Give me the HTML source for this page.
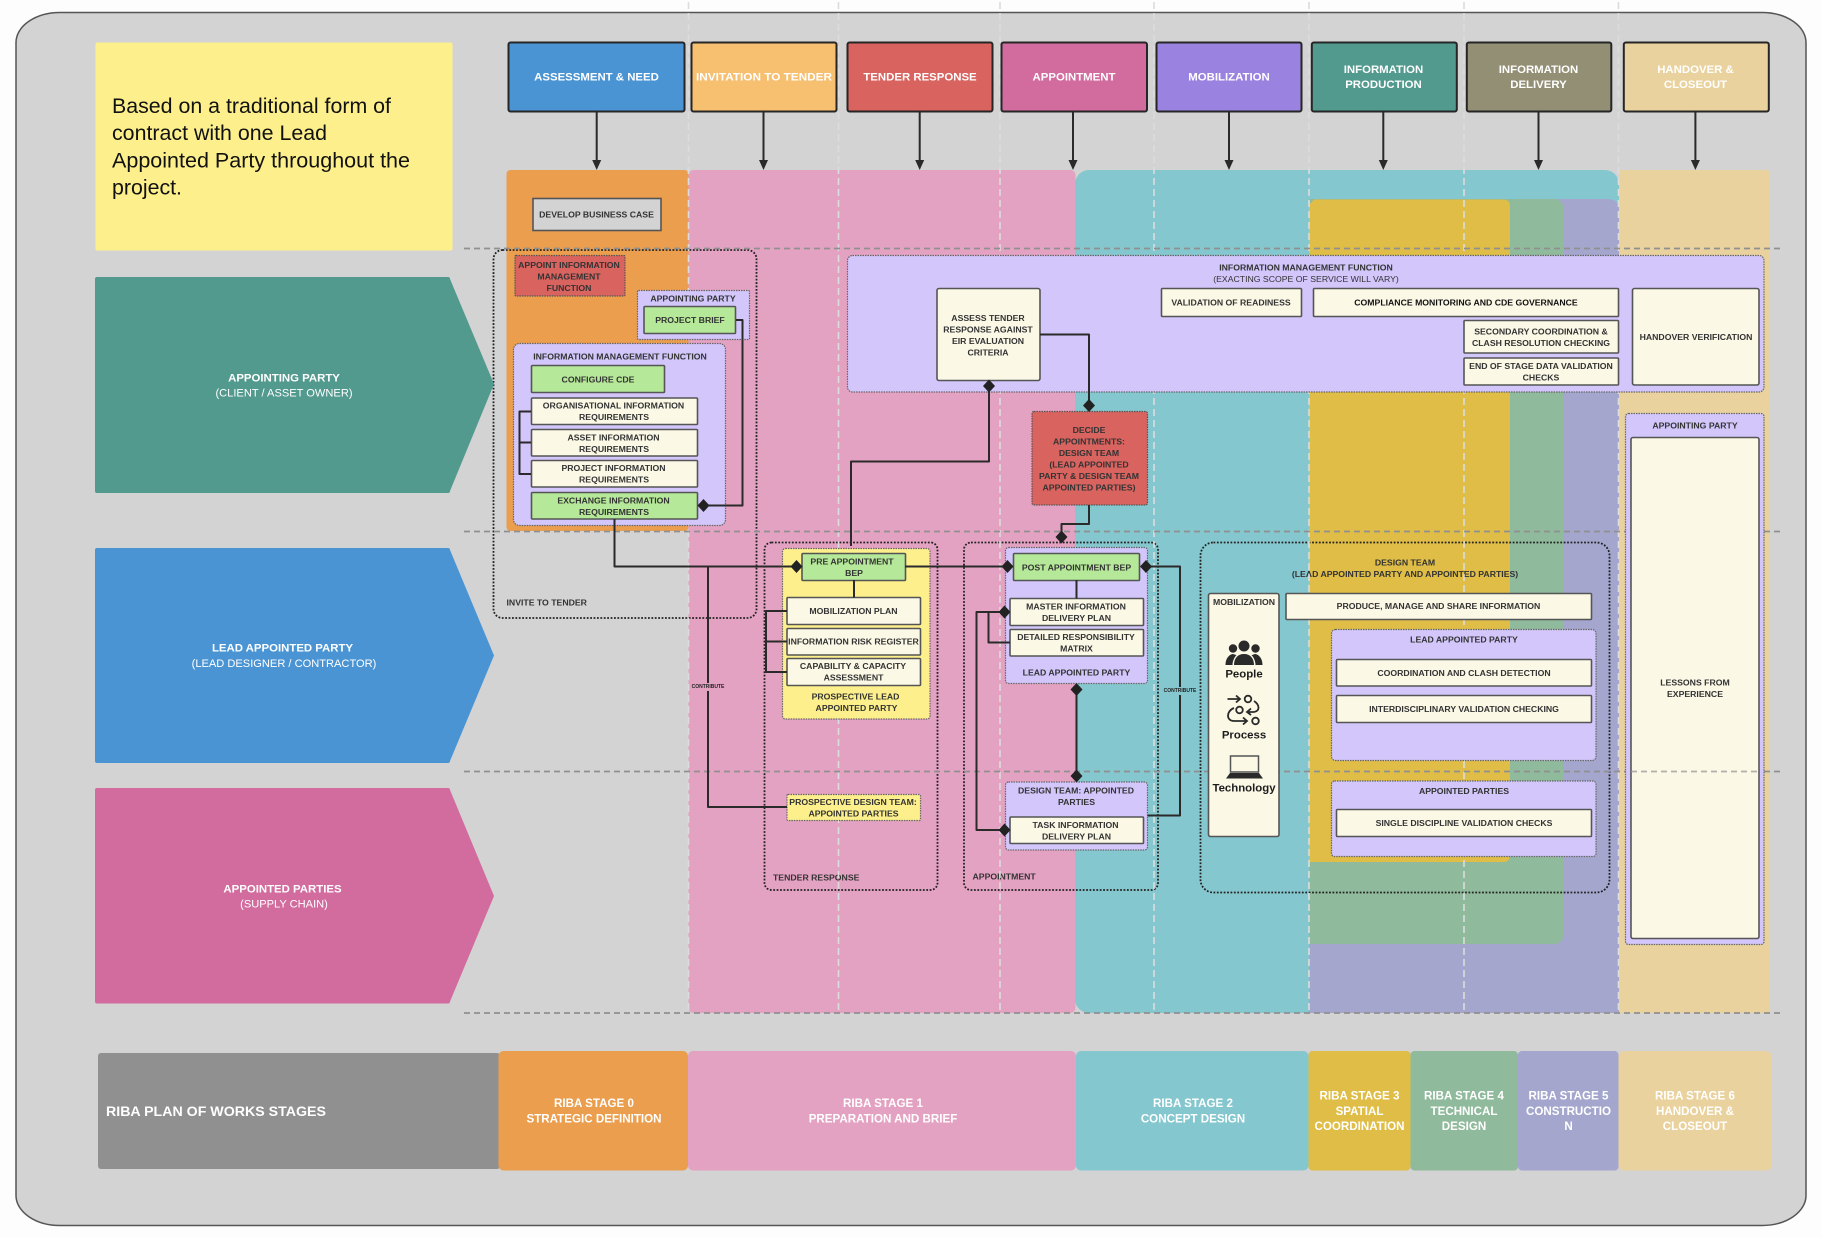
<!DOCTYPE html>
<html><head><meta charset="utf-8"><title>Information management process diagram</title>
<style>
html,body{margin:0;padding:0;background:#fdfdfd;width:1822px;height:1238px;overflow:hidden}
svg{display:block}
text{font-family:"Liberation Sans",sans-serif;dominant-baseline:central;text-anchor:middle;font-weight:700;font-size:8.7px;fill:#333}
.w{fill:#fff;font-size:11.4px;transform:translateY(.5px)}
.wr{fill:#fff;font-size:11.1px;font-weight:400;transform:translateY(.5px)}
.st{fill:#fff;font-size:11.6px;transform:translateY(.6px)}
.l{text-anchor:start}
.n{font-weight:400}
.b{stroke:#555;stroke-width:1.6}
.cream{fill:#fbf8e6}
.green{fill:#b5e898}
.pur{fill:#d2c6fb;stroke:#666;stroke-width:1.2;stroke-dasharray:1.5 1}
.dot{fill:none;stroke:#222;stroke-width:1.8;stroke-dasharray:1.8 1.6}
.hd{stroke:#262626;stroke-width:2}
.c{fill:none;stroke:#2a2a2a;stroke-width:2;stroke-linejoin:round}
.hl{stroke:#909090;stroke-width:1.7;stroke-dasharray:6 4;fill:none}
.vl{stroke:#dcdcdc;stroke-width:1.6;stroke-dasharray:7 4;fill:none}
</style></head><body>
<svg xmlns="http://www.w3.org/2000/svg" width="1822" height="1238" viewBox="0 0 1822 1238">
<defs><polygon id="d" points="0,-6.5 6,0 0,6.5 -6,0" fill="#222"/><polygon id="a" points="-4.5,-10 4.5,-10 0,0" fill="#2a2a2a"/></defs>
<rect width="1822" height="1238" fill="#fdfdfd"/>
<rect x="16" y="12.5" width="1790" height="1213" rx="44" ry="30" fill="#d3d3d3" stroke="#555" stroke-width="1.5"/>

<!-- stage columns -->
<rect x="506.5" y="170" width="182" height="361" rx="4" fill="#ea9e4e"/>
<rect x="688.5" y="170" width="387" height="843" rx="5" fill="#e4a2c2"/>
<path d="M1089 170H1605a14 14 0 0 1 14 14V1013H1089a14 14 0 0 1-14-14V184a14 14 0 0 1 14-14z" fill="#85c7cf"/>
<path d="M1309 199H1609a10 10 0 0 1 10 10V1013H1309z" fill="#a4a6ce"/>
<path d="M1309 199H1555a8 8 0 0 1 8 8V936a8 8 0 0 1-8 8H1309z" fill="#90ba9c"/>
<path d="M1314 199.500H1504a6 6 0 0 1 6 6V856a6 6 0 0 1-6 6H1309V205z" fill="#dfbd46"/>
<path d="M1619 170H1766a4 4 0 0 1 4 4V1013H1619z" fill="#e9d29e"/>

<!-- dotted containers -->
<rect x="493.500" y="250" width="263" height="368" rx="9" class="dot"/>
<rect x="764.500" y="542.500" width="173" height="347.500" rx="7" class="dot"/>
<rect x="964" y="542.500" width="194" height="347.500" rx="7" class="dot"/>
<rect x="1200.500" y="542.500" width="409" height="350" rx="13" class="dot"/>
<text class="l" x="506.500" y="602.500">INVITE TO TENDER</text>
<text class="l" x="773" y="877.500">TENDER RESPONSE</text>
<text class="l" x="972.500" y="876.500">APPOINTMENT</text>
<text x="1405" y="562.500">DESIGN TEAM</text>
<text x="1405" y="574">(LEAD APPOINTED PARTY AND APPOINTED PARTIES)</text>

<!-- grid lines -->
<g class="vl">
<path d="M688.500 2V1013M838.500 2V1013M1000 2V1013M1154 2V1013M1309 2V1013M1464 2V1013M1618.500 2V1013"/>
</g>
<g class="hl">
<path d="M464 248.500H1780M464 531.500H1780M464 771.500H1780M464 1013H1780"/>
</g>

<!-- note -->
<rect x="95.500" y="42.500" width="357" height="208" rx="2" fill="#fdf08c"/>
<text class="l n" style="font-size:21px;fill:#111" x="112" y="106.500" textLength="279" lengthAdjust="spacingAndGlyphs">Based on a traditional form of</text>
<text class="l n" style="font-size:21px;fill:#111" x="112" y="133.500" textLength="215" lengthAdjust="spacingAndGlyphs">contract with one Lead</text>
<text class="l n" style="font-size:21px;fill:#111" x="112" y="161" textLength="298" lengthAdjust="spacingAndGlyphs">Appointed Party throughout the</text>
<text class="l n" style="font-size:21px;fill:#111" x="112" y="188" textLength="70" lengthAdjust="spacingAndGlyphs">project.</text>

<!-- headers -->
<rect class="hd" x="508.500" y="42.500" width="176" height="69" rx="2" fill="#4a94d4"/>
<rect class="hd" x="691.500" y="42.500" width="145" height="69" rx="2" fill="#f7bf70"/>
<rect class="hd" x="847.500" y="42.500" width="145" height="69" rx="2" fill="#d8635f"/>
<rect class="hd" x="1001.500" y="42.500" width="145.500" height="69" rx="2" fill="#d26b9e"/>
<rect class="hd" x="1156.500" y="42.500" width="145" height="69" rx="2" fill="#9a82e0"/>
<rect class="hd" x="1311.800" y="42.500" width="145" height="69" rx="2" fill="#52998e"/>
<rect class="hd" x="1466.800" y="42.500" width="144.500" height="69" rx="2" fill="#928f74"/>
<rect class="hd" x="1623.800" y="42.500" width="145" height="69" rx="2" fill="#e9d29e"/>
<text class="w" x="596.500" y="77">ASSESSMENT &amp; NEED</text>
<text class="w" x="764" y="77" textLength="136" lengthAdjust="spacingAndGlyphs">INVITATION TO TENDER</text>
<text class="w" x="920" y="77">TENDER RESPONSE</text>
<text class="w" x="1074" y="77">APPOINTMENT</text>
<text class="w" x="1229" y="77">MOBILIZATION</text>
<text class="w" x="1383.500" y="69.500">INFORMATION</text><text class="w" x="1383.500" y="84.500">PRODUCTION</text>
<text class="w" x="1538.500" y="69.500">INFORMATION</text><text class="w" x="1538.500" y="84.500">DELIVERY</text>
<text class="w" x="1695.500" y="69.500">HANDOVER &amp;</text><text class="w" x="1695.500" y="84.500">CLOSEOUT</text>
<g class="c"><path d="M596.700 111V162M763.500 111V162M919.700 111V162M1073 111V162M1229 111V162M1383.300 111V162M1538.500 111V162M1695.400 111V162"/></g>
<use href="#a" x="596.700" y="170"/><use href="#a" x="763.500" y="170"/><use href="#a" x="919.700" y="170"/><use href="#a" x="1073" y="170"/><use href="#a" x="1229" y="170"/><use href="#a" x="1383.300" y="170"/><use href="#a" x="1538.500" y="170"/><use href="#a" x="1695.400" y="170"/>

<!-- chevrons -->
<path d="M97 277H448a2 2 0 0 1 2 2L494 384 450 491a2 2 0 0 1-2 2H97a2 2 0 0 1-2-2V279a2 2 0 0 1 2-2z" fill="#52998e"/>
<path d="M97 548H448a2 2 0 0 1 2 2L494 655.500 450 761a2 2 0 0 1-2 2H97a2 2 0 0 1-2-2V550a2 2 0 0 1 2-2z" fill="#4a94d4"/>
<path d="M97 788H448a2 2 0 0 1 2 2L494 896 450 1001.500a2 2 0 0 1-2 2H97a2 2 0 0 1-2-2V790a2 2 0 0 1 2-2z" fill="#d26b9e"/>
<text class="w" x="284" y="378">APPOINTING PARTY</text><text class="wr" x="284" y="393">(CLIENT / ASSET OWNER)</text>
<text class="w" x="282.500" y="648">LEAD APPOINTED PARTY</text><text class="wr" x="284" y="663.500">(LEAD DESIGNER / CONTRACTOR)</text>
<text class="w" x="282.500" y="889">APPOINTED PARTIES</text><text class="wr" x="284" y="904">(SUPPLY CHAIN)</text>

<!-- bottom band -->
<rect x="98" y="1053" width="402" height="116" rx="3" fill="#909090"/>
<text class="l" style="fill:#fff;font-size:14.2px" x="106" y="1112">RIBA PLAN OF WORKS STAGES</text>
<rect x="498.500" y="1051" width="189.500" height="119.500" rx="5" fill="#ea9e4e"/>
<rect x="688" y="1051" width="388" height="119.500" rx="5" fill="#e4a2c2"/>
<rect x="1076" y="1051" width="232.500" height="119.500" rx="5" fill="#85c7cf"/>
<rect x="1308.500" y="1051" width="102" height="119.500" rx="4" fill="#dfbd46"/>
<rect x="1410.500" y="1051" width="107.500" height="119.500" rx="4" fill="#90ba9c"/>
<rect x="1518" y="1051" width="100.500" height="119.500" rx="4" fill="#a4a6ce"/>
<rect x="1618.500" y="1051" width="153" height="119.500" rx="6" fill="#e9d29e"/>
<text class="st" x="594" y="1103">RIBA STAGE 0</text><text class="st" x="594" y="1118.500">STRATEGIC DEFINITION</text>
<text class="st" x="883" y="1103">RIBA STAGE 1</text><text class="st" x="883" y="1118.500">PREPARATION AND BRIEF</text>
<text class="st" x="1193" y="1103">RIBA STAGE 2</text><text class="st" x="1193" y="1118.500">CONCEPT DESIGN</text>
<text class="st" x="1359.500" y="1095.500">RIBA STAGE 3</text><text class="st" x="1359.500" y="1111">SPATIAL</text><text class="st" x="1359.500" y="1126">COORDINATION</text>
<text class="st" x="1464" y="1095.500">RIBA STAGE 4</text><text class="st" x="1464" y="1111">TECHNICAL</text><text class="st" x="1464" y="1126">DESIGN</text>
<text class="st" x="1568.500" y="1095.500">RIBA STAGE 5</text><text class="st" x="1568.500" y="1111">CONSTRUCTIO</text><text class="st" x="1568.500" y="1126">N</text>
<text class="st" x="1695" y="1095.500">RIBA STAGE 6</text><text class="st" x="1695" y="1111">HANDOVER &amp;</text><text class="st" x="1695" y="1126">CLOSEOUT</text>

<!-- stage 0 -->
<rect x="533" y="198.500" width="128" height="32" class="b" fill="#d3d3d3"/>
<text x="596.500" y="214.500">DEVELOP BUSINESS CASE</text>
<rect x="515" y="255.500" width="110" height="40.500" rx="1" fill="#d8635f" stroke="#555" stroke-width="1.2" stroke-dasharray="1.500 1"/>
<text x="569" y="265">APPOINT INFORMATION</text><text x="569" y="276.500">MANAGEMENT</text><text x="569" y="288">FUNCTION</text>
<rect x="637.500" y="290.500" width="112" height="49" rx="1" class="pur"/>
<text x="693" y="298.500">APPOINTING PARTY</text>
<rect x="644" y="306.500" width="91.500" height="27" rx="1" class="b green"/>
<text x="690" y="320">PROJECT BRIEF</text>
<rect x="513.500" y="343.500" width="212" height="182" rx="6" class="pur"/>
<text x="620" y="356.500">INFORMATION MANAGEMENT FUNCTION</text>
<rect x="531.500" y="365.500" width="133" height="27" rx="1" class="b green"/>
<text x="598" y="379.500">CONFIGURE CDE</text>
<rect x="531.500" y="398" width="166" height="26.500" rx="1" class="b cream"/>
<text x="613.500" y="405.500">ORGANISATIONAL INFORMATION</text><text x="614" y="417">REQUIREMENTS</text>
<rect x="531.500" y="429.500" width="166" height="26.500" rx="1" class="b cream"/>
<text x="613.500" y="437.500">ASSET INFORMATION</text><text x="614" y="449">REQUIREMENTS</text>
<rect x="531.500" y="460.500" width="166" height="26.500" rx="1" class="b cream"/>
<text x="613.500" y="468">PROJECT INFORMATION</text><text x="614" y="479.500">REQUIREMENTS</text>
<rect x="531.500" y="492.500" width="166" height="26.500" rx="1" class="b green"/>
<text x="613.500" y="500.500">EXCHANGE INFORMATION</text><text x="614" y="512">REQUIREMENTS</text>

<!-- top IM function -->
<rect x="847.500" y="255.500" width="916.500" height="136.500" rx="5" class="pur"/>
<text x="1306" y="267.500">INFORMATION MANAGEMENT FUNCTION</text>
<text class="n" x="1306" y="279">(EXACTING SCOPE OF SERVICE WILL VARY)</text>
<rect x="937" y="288.500" width="103" height="92" rx="2" class="b cream"/>
<text x="988" y="318">ASSESS TENDER</text><text x="988" y="329.500">RESPONSE AGAINST</text><text x="988" y="341">EIR EVALUATION</text><text x="988" y="352.500">CRITERIA</text>
<rect x="1161.500" y="288.500" width="140" height="28" rx="1" class="b cream"/>
<text x="1231" y="302.500">VALIDATION OF READINESS</text>
<rect x="1313.500" y="288.500" width="305" height="28" rx="1" class="b cream"/>
<text x="1466" y="302.500" style="fill:#111">COMPLIANCE MONITORING AND CDE GOVERNANCE</text>
<rect x="1464" y="320.500" width="154.500" height="32.500" rx="1" class="b cream"/>
<text x="1541" y="331.500">SECONDARY COORDINATION &amp;</text><text x="1541" y="343">CLASH RESOLUTION CHECKING</text>
<rect x="1464" y="358" width="154.500" height="27" rx="1" class="b cream"/>
<text x="1541" y="366">END OF STAGE DATA VALIDATION</text><text x="1541" y="377.500">CHECKS</text>
<rect x="1632.500" y="288.500" width="126.500" height="96.500" rx="2" class="b cream"/>
<text x="1696" y="337">HANDOVER VERIFICATION</text>

<!-- decide -->
<rect x="1032" y="411.500" width="115.500" height="93.500" rx="2" fill="#d8635f" stroke="#555" stroke-width="1.2" stroke-dasharray="1.500 1"/>
<text x="1089" y="430">DECIDE</text><text x="1089" y="441.500">APPOINTMENTS:</text><text x="1089" y="453">DESIGN TEAM</text><text x="1089" y="464.500">(LEAD APPOINTED</text><text x="1089" y="476">PARTY &amp; DESIGN TEAM</text><text x="1089" y="487.500">APPOINTED PARTIES)</text>

<!-- right appointing party -->
<rect x="1625.500" y="413.500" width="138.500" height="531" rx="3" class="pur"/>
<text x="1695" y="425.500">APPOINTING PARTY</text>
<rect x="1631" y="437.500" width="128" height="501" rx="2" class="b cream"/>
<text x="1695" y="682.500">LESSONS FROM</text><text x="1695" y="694">EXPERIENCE</text>
<path d="M1631 771.500H1759" class="hl" opacity=".7"/>

<!-- tender response -->
<rect x="782.500" y="548.500" width="147.500" height="170.500" rx="3" fill="#fdf08c" stroke="#666" stroke-width="1.2" stroke-dasharray="1.500 1"/>
<rect x="802" y="553.500" width="103.500" height="27" rx="1" class="b green"/>
<text x="852" y="561.500">PRE APPOINTMENT</text><text x="854" y="573">BEP</text>
<rect x="787" y="597.500" width="133.500" height="27" rx="1" class="b cream"/>
<text x="853.500" y="611">MOBILIZATION PLAN</text>
<rect x="787" y="628.500" width="133.500" height="26.500" rx="1" class="b cream"/>
<text x="853.500" y="641.500">INFORMATION RISK REGISTER</text>
<rect x="787" y="658.500" width="133.500" height="27" rx="1" class="b cream"/>
<text x="853" y="666">CAPABILITY &amp; CAPACITY</text><text x="853.500" y="677.500">ASSESSMENT</text>
<text x="855.500" y="696.500">PROSPECTIVE LEAD</text><text x="856.500" y="708">APPOINTED PARTY</text>
<rect x="787" y="794.500" width="133.500" height="26" rx="1" fill="#fdf08c" stroke="#666" stroke-width="1.200" stroke-dasharray="1.500 1"/>
<text x="853" y="802">PROSPECTIVE DESIGN TEAM:</text><text x="853.500" y="813.500">APPOINTED PARTIES</text>

<!-- appointment -->
<rect x="1005.500" y="547.500" width="142" height="136" rx="3" class="pur"/>
<rect x="1013.500" y="553.500" width="126" height="27" rx="1" class="b green"/>
<text x="1076.500" y="567.500">POST APPOINTMENT BEP</text>
<rect x="1010" y="598.500" width="133.500" height="27" rx="1" class="b cream"/>
<text x="1076" y="606.500">MASTER INFORMATION</text><text x="1076.500" y="618">DELIVERY PLAN</text>
<rect x="1010" y="629.500" width="133.500" height="26.500" rx="1" class="b cream"/>
<text x="1076" y="637">DETAILED RESPONSIBILITY</text><text x="1076.500" y="648.500">MATRIX</text>
<text x="1076.500" y="672.500">LEAD APPOINTED PARTY</text>
<rect x="1005.500" y="782" width="142" height="68" rx="3" class="pur"/>
<text x="1076" y="790.500">DESIGN TEAM: APPOINTED</text><text x="1076.500" y="802">PARTIES</text>
<rect x="1010" y="817" width="133.500" height="26.500" rx="1" class="b cream"/>
<text x="1075.500" y="825">TASK INFORMATION</text><text x="1076.500" y="836.500">DELIVERY PLAN</text>

<!-- design team -->
<rect x="1208.500" y="593.500" width="70.500" height="243" rx="2" class="b cream"/>
<text x="1244" y="602">MOBILIZATION</text>
<g fill="#2a2a2a">
<circle cx="1233" cy="648.500" r="4.200"/><circle cx="1244" cy="646" r="5.500"/><circle cx="1255.500" cy="648.500" r="4.200"/>
<path d="M1225.500 665c0-6 3-10 7-11 1 0 3 1 4 1-2 2-4 6-4 10zM1262.500 665c0-6-3-10-7-11-1 0-3 1-4 1 2 2 4 6 4 10zM1234 665c0-7 4-11 10-11s10 4 10 11z"/>
</g>
<text style="font-size:11.400px;fill:#1d1d1d" x="1244" y="674.500">People</text>
<g fill="none" stroke="#2a2a2a" stroke-width="1.800">
<path d="M1227.500 699h12M1236 695.500l4 3.500-4 3.500"/><circle cx="1248" cy="699" r="3.300"/>
<circle cx="1239.500" cy="710" r="3.300"/><path d="M1254 701c6 4 6 10 0 11h-6M1251 708.500l-4 3.500 4 3"/>
<path d="M1234 708c-8 3-8 13 0 13h12M1243 717.500l4 3.500-4 3.500"/><circle cx="1255.500" cy="721" r="3.300"/>
</g>
<text style="font-size:11.400px;fill:#1d1d1d" x="1244" y="735.500">Process</text>
<rect x="1230.500" y="756" width="28" height="16" fill="none" stroke="#555" stroke-width="1.500"/>
<path d="M1230 773h29l4 5.500h-37z" fill="#2a2a2a"/>
<text style="font-size:11.400px;fill:#1d1d1d" x="1244" y="788.500">Technology</text>
<rect x="1286" y="593.500" width="305.500" height="26" rx="1" class="b cream"/>
<text x="1438.500" y="606">PRODUCE, MANAGE AND SHARE INFORMATION</text>
<rect x="1331.500" y="629.500" width="264.500" height="131" rx="4" class="pur"/>
<text x="1464" y="639.500">LEAD APPOINTED PARTY</text>
<rect x="1336.500" y="659.500" width="255" height="26.500" rx="1" class="b cream"/>
<text x="1464" y="673">COORDINATION AND CLASH DETECTION</text>
<rect x="1336.500" y="695.500" width="255" height="27" rx="1" class="b cream"/>
<text x="1464" y="709">INTERDISCIPLINARY VALIDATION CHECKING</text>
<rect x="1331.500" y="781" width="264.500" height="75.500" rx="3" class="pur"/>
<text x="1464" y="791">APPOINTED PARTIES</text>
<rect x="1336.500" y="809.500" width="255" height="27" rx="1" class="b cream"/>
<text x="1464" y="823">SINGLE DISCIPLINE VALIDATION CHECKS</text>

<!-- connectors -->
<g class="c">
<path d="M531 411.500H519.500V474H531M519.500 442.500H531"/>
<path d="M736 320H742.500V505.500H706"/>
<path d="M614.500 519V566.500H793"/>
<path d="M708 566.500V807H787"/>
<path d="M851 546V461.500H989V386"/>
<path d="M1040 334.500H1089V402"/>
<path d="M1089 505V524H1061.500V534"/>
<path d="M905 566.500H1004"/>
<path d="M854 580V597.500M1076.500 580V598.500"/>
<path d="M787 611H766V672H787M766 641.500H787"/>
<path d="M1004 612H976.500V830H1004M988.500 612V642.500H1010"/>
<path d="M1076.500 689V776"/>
<path d="M1146 566.500H1180V815.500H1147.500"/>
</g>
<use href="#d" x="703.500" y="505.500"/><use href="#d" x="796.500" y="566.500"/><use href="#d" x="1007.500" y="566.500"/><use href="#d" x="1146" y="566.500"/>
<use href="#d" x="989" y="386"/><use href="#d" x="1089" y="405.500"/><use href="#d" x="1061.500" y="537"/>
<use href="#d" x="1004.500" y="612"/><use href="#d" x="1004.500" y="830"/><use href="#d" x="1076.500" y="689.500"/><use href="#d" x="1076.500" y="776"/>

<rect x="690" y="683" width="36" height="8" fill="#e4a2c2"/>
<text style="font-size:5px;fill:#222" x="708" y="687">CONTRIBUTE</text>
<rect x="1162" y="687" width="36" height="8" fill="#85c7cf"/>
<text style="font-size:5px;fill:#222" x="1180" y="691">CONTRIBUTE</text>
</svg>
</body></html>
